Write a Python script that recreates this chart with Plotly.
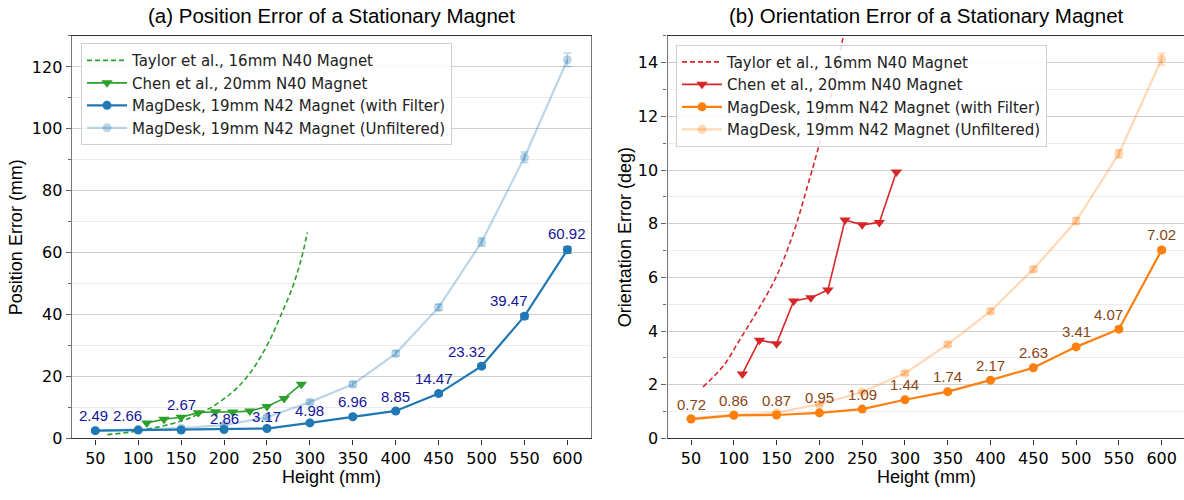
import plotly.graph_objects as go

# ---------------- data ----------------
heights = [50, 100, 150, 200, 250, 300, 350, 400, 450, 500, 550, 600]

pos_filtered = [2.49, 2.66, 2.67, 2.86, 3.17, 4.98, 6.96, 8.85, 14.47, 23.32, 39.47, 60.92]
pos_filtered_err = [0.3, 0.3, 0.3, 0.3, 0.3, 0.4, 0.5, 0.5, 0.6, 0.7, 0.8, 1.0]
pos_unfiltered = [2.5, 2.9, 3.3, 4.3, 6.8, 11.7, 17.5, 27.4, 42.3, 63.4, 90.8, 122.3]
pos_unfiltered_err = [0.4, 0.4, 0.5, 0.5, 0.6, 0.7, 0.8, 0.9, 1.0, 1.3, 1.7, 2.2]

chen_h = [110, 130, 150, 170, 190, 210, 230, 250, 270, 290]
chen_pos = [5.0, 6.2, 6.8, 8.3, 8.6, 8.5, 8.8, 10.3, 12.9, 17.5]
chen_ori = [2.4, 3.66, 3.53, 5.12, 5.24, 5.53, 8.14, 7.96, 8.05, 9.93]

taylor_pos_h = [64, 100, 150, 180, 210, 230, 250, 265, 280, 290, 297]
taylor_pos = [1.2, 2.4, 5.6, 9.2, 15.0, 21.0, 30.0, 39.0, 49.0, 58.0, 66.5]

taylor_ori_h = [64, 88, 107, 127, 150, 170, 186, 201, 213, 228, 236]
taylor_ori = [1.92, 2.71, 3.68, 4.72, 6.05, 7.69, 9.39, 11.1, 12.67, 15.0, 16.2]

ori_filtered = [0.72, 0.86, 0.87, 0.95, 1.09, 1.44, 1.74, 2.17, 2.63, 3.41, 4.07, 7.02]
ori_filtered_err = [0.03, 0.03, 0.03, 0.03, 0.03, 0.04, 0.04, 0.05, 0.05, 0.06, 0.07, 0.08]
ori_unfiltered = [0.75, 0.88, 0.96, 1.27, 1.73, 2.43, 3.5, 4.74, 6.3, 8.1, 10.61, 14.14]
ori_unfiltered_err = [0.03, 0.03, 0.04, 0.05, 0.05, 0.07, 0.08, 0.09, 0.1, 0.12, 0.15, 0.22]

pos_labels = ["2.49", "2.66", "2.67", "2.86", "3.17", "4.98", "6.96", "8.85", "14.47", "23.32", "39.47", "60.92"]
ori_labels = ["0.72", "0.86", "0.87", "0.95", "1.09", "1.44", "1.74", "2.17", "2.63", "3.41", "4.07", "7.02"]

# label offsets (pixels) used for placement of the value annotations
pos_label_dx = [-2, -11, 0, 0, 0, 0, 0, 0, -5, -15, -15, 0]
pos_label_dy = [15, 15, 26, 11, 12, 12, 15, 14, 15, 15, 16, 16]
ori_label_dx = [0, 0, 0, 0, 0, 0, 0, 0, 0, 0, -10, 0]
ori_label_dy = [15, 15, 15, 15, 15, 15, 15, 15, 15, 15, 15, 16]

legend_names = [
    "Taylor et al., 16mm N40 Magnet",
    "Chen et al., 20mm N40 Magnet",
    "MagDesk, 19mm N42 Magnet (with Filter)",
    "MagDesk, 19mm N42 Magnet (Unfiltered)",
]

# ---------------- styles ----------------
BLUE = "#1f77b4"
BLUE_L = "rgba(31,119,180,0.3)"
ORANGE = "#ff7f0e"
ORANGE_L = "rgba(255,127,14,0.3)"
GREEN = "#2ca02c"
RED = "#d62728"
TICKFONT = dict(family="DejaVu Sans", size=16, color="#000")
LBLFONT = "Liberation Sans"

W, H = 1184, 500
L1, R1 = 71.7, 591.0
L2 = 667.5
TOP, BOT = 36.7, 447.3

fig = go.Figure()


def add_panel(xa, ya, leg, taylor_x, taylor_y, chen_y, filt, filt_err, unf, unf_err,
              lcol, lcol_l, dcol):
    fig.add_trace(go.Scatter(
        x=taylor_x, y=taylor_y, mode="lines", name=legend_names[0],
        line=dict(color=dcol, width=1.6, dash="5px,3px", shape="spline"),
        xaxis=xa, yaxis=ya, legend=leg, legendrank=1, legendgroup=leg + "a"))
    fig.add_trace(go.Scatter(
        x=chen_h, y=chen_y, mode="lines+markers", name=legend_names[1],
        line=dict(color=dcol, width=1.6),
        marker=dict(symbol="triangle-down", size=10, color=dcol),
        xaxis=xa, yaxis=ya, legend=leg, legendrank=2, legendgroup=leg + "b"))
    fig.add_trace(go.Scatter(
        x=heights, y=unf, mode="lines+markers", name=legend_names[3],
        line=dict(color=lcol_l, width=2.2),
        marker=dict(symbol="circle", size=9, color=lcol_l),
        error_y=dict(type="data", array=unf_err, color=lcol_l, thickness=1.5, width=4),
        xaxis=xa, yaxis=ya, legend=leg, legendrank=4, legendgroup=leg + "d"))
    fig.add_trace(go.Scatter(
        x=heights, y=filt, mode="lines+markers", name=legend_names[2],
        line=dict(color=lcol, width=2.2),
        marker=dict(symbol="circle", size=9, color=lcol),
        error_y=dict(type="data", array=filt_err, color=lcol, thickness=1.5, width=4),
        xaxis=xa, yaxis=ya, legend=leg, legendrank=3, legendgroup=leg + "c"))


add_panel("x", "y", "legend", taylor_pos_h, taylor_pos, chen_pos,
          pos_filtered, pos_filtered_err, pos_unfiltered, pos_unfiltered_err,
          BLUE, BLUE_L, GREEN)
add_panel("x2", "y2", "legend2", taylor_ori_h, taylor_ori, chen_ori,
          ori_filtered, ori_filtered_err, ori_unfiltered, ori_unfiltered_err,
          ORANGE, ORANGE_L, RED)

annotations = []
for h, v, t, dx, dy in zip(heights, pos_filtered, pos_labels, pos_label_dx, pos_label_dy):
    annotations.append(dict(x=h, y=v, xref="x", yref="y", text=t, showarrow=False,
                            xshift=dx, yshift=dy,
                            font=dict(family=LBLFONT, size=15, color="#14149a")))
for h, v, t, dx, dy in zip(heights, ori_filtered, ori_labels, ori_label_dx, ori_label_dy):
    annotations.append(dict(x=h, y=v, xref="x2", yref="y2", text=t, showarrow=False,
                            xshift=dx, yshift=dy,
                            font=dict(family=LBLFONT, size=15, color="#8b4513")))


def px(xp):
    return xp / W


def py(yp):
    return 1 - yp / H


TITLEFONT = dict(family=LBLFONT, size=20.5, color="#000")
AXFONT = dict(family=LBLFONT, size=18, color="#000")
annotations += [
    dict(x=px((L1 + R1) / 2), y=py(16), xref="paper", yref="paper",
         text="(a) Position Error of a Stationary Magnet", showarrow=False,
         font=TITLEFONT, xanchor="center", yanchor="middle"),
    dict(x=px((L2 + 1186) / 2), y=py(16), xref="paper", yref="paper",
         text="(b) Orientation Error of a Stationary Magnet", showarrow=False,
         font=TITLEFONT, xanchor="center", yanchor="middle"),
    dict(x=px((L1 + R1) / 2), y=py(487), xref="paper", yref="paper",
         text="Height (mm)", showarrow=False, font=AXFONT,
         xanchor="center", yanchor="middle"),
    dict(x=px((L2 + 1186) / 2), y=py(487), xref="paper", yref="paper",
         text="Height (mm)", showarrow=False, font=AXFONT,
         xanchor="center", yanchor="middle"),
    dict(x=px(16), y=py((TOP + BOT) / 2), xref="paper", yref="paper",
         text="Position Error (mm)", showarrow=False, font=AXFONT, textangle=-90,
         xanchor="center", yanchor="middle"),
    dict(x=px(625), y=py((TOP + BOT) / 2), xref="paper", yref="paper",
         text="Orientation Error (deg)", showarrow=False, font=AXFONT, textangle=-90,
         xanchor="center", yanchor="middle"),
]

xcommon = dict(tickvals=heights, ticks="outside", ticklen=5, tickcolor="#333",
               showline=True, linecolor="#333", linewidth=1.3, mirror=True,
               showgrid=False, zeroline=False, tickfont=TICKFONT)
ycommon = dict(ticks="outside", ticklen=5, tickcolor="#666",
               showline=True, linecolor="#777", linewidth=1.3,
               showgrid=True, gridcolor="#cfcfcf", gridwidth=1,
               zeroline=False, tickfont=TICKFONT)

legcommon = dict(bgcolor="rgba(255,255,255,0.85)", bordercolor="#d0d0d0", borderwidth=1,
                 font=dict(family="DejaVu Sans", size=15, color="#222"),
                 xanchor="left", yanchor="top", tracegroupgap=2.5,
                 itemwidth=40, traceorder="normal")

fig.update_layout(
    width=W, height=H,
    margin=dict(l=0, r=0, t=0, b=0),
    paper_bgcolor="white", plot_bgcolor="white",
    xaxis=dict(domain=[px(L1), px(R1)], range=[22.5, 627.5], anchor="y", **xcommon),
    yaxis=dict(domain=[py(BOT), py(TOP)], range=[0, 130], anchor="x",
               tickvals=[0, 20, 40, 60, 80, 100, 120], mirror=True,
               minor=dict(dtick=10, ticks="outside", ticklen=3, tickcolor="#666",
                          showgrid=True, gridcolor="#ececec"),
               **ycommon),
    xaxis2=dict(domain=[px(L2), 1.0], range=[22.5, 626.1], anchor="y2", **xcommon),
    yaxis2=dict(domain=[py(BOT), py(TOP)], range=[0, 15], anchor="x2",
                tickvals=[0, 2, 4, 6, 8, 10, 12, 14], mirror=False,
                minor=dict(dtick=1, ticks="outside", ticklen=3, tickcolor="#666",
                           showgrid=True, gridcolor="#ececec"),
                **ycommon),
    legend=dict(x=px(81), y=py(44), **legcommon),
    legend2=dict(x=px(676), y=py(45.5), **legcommon),
    annotations=annotations,
    showlegend=True,
)

fig.write_html(
    "out.html",
    config={"displayModeBar": False},
    post_script="document.body.style.margin='0';document.body.style.overflow='hidden';",
)
